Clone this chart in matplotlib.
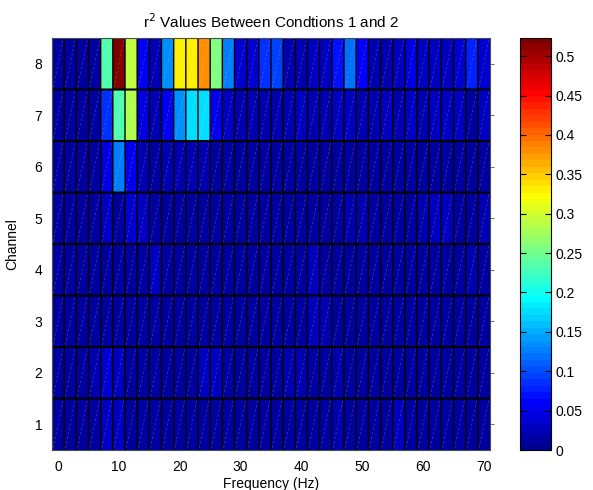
import matplotlib
matplotlib.use('Agg')
import matplotlib.pyplot as plt
import numpy as np
from matplotlib.colors import ListedColormap
from matplotlib.collections import LineCollection

plt.rcParams['font.family'] = ['Liberation Sans', 'DejaVu Sans']
fs = 10

freqs = np.arange(0, 71, 2)          # bin centres (Hz)
channels = [1, 2, 3, 4, 5, 6, 7, 8]

ch1 = [0.012, 0.012, 0.012, 0.015, 0.030, 0.028, 0.015, 0.012, 0.012, 0.012, 0.012, 0.012,
       0.015, 0.012, 0.012, 0.012, 0.012, 0.012, 0.012, 0.015, 0.012, 0.012, 0.012, 0.020,
       0.012, 0.012, 0.012, 0.015, 0.030, 0.012, 0.012, 0.012, 0.012, 0.012, 0.012, 0.012]
ch2 = [0.012, 0.012, 0.012, 0.020, 0.040, 0.030, 0.015, 0.012, 0.015, 0.015, 0.015, 0.012,
       0.025, 0.025, 0.012, 0.012, 0.012, 0.012, 0.012, 0.020, 0.020, 0.015, 0.012, 0.020,
       0.015, 0.012, 0.012, 0.012, 0.012, 0.012, 0.012, 0.012, 0.012, 0.012, 0.012, 0.012]
ch3 = [0.012, 0.012, 0.012, 0.012, 0.015, 0.012, 0.012, 0.012, 0.012, 0.012, 0.012, 0.012,
       0.012, 0.015, 0.012, 0.012, 0.012, 0.012, 0.012, 0.012, 0.012, 0.025, 0.020, 0.015,
       0.012, 0.012, 0.012, 0.012, 0.012, 0.012, 0.012, 0.012, 0.012, 0.012, 0.012, 0.012]
ch4 = [0.012, 0.012, 0.012, 0.012, 0.012, 0.012, 0.012, 0.012, 0.025, 0.015, 0.012, 0.012,
       0.012, 0.012, 0.012, 0.012, 0.012, 0.012, 0.012, 0.012, 0.012, 0.025, 0.015, 0.012,
       0.012, 0.012, 0.012, 0.012, 0.012, 0.012, 0.015, 0.012, 0.012, 0.015, 0.020, 0.012]
ch5 = [0.010, 0.010, 0.010, 0.015, 0.030, 0.015, 0.040, 0.028, 0.012, 0.010, 0.012, 0.012,
       0.010, 0.012, 0.010, 0.012, 0.012, 0.015, 0.012, 0.012, 0.012, 0.010, 0.012, 0.015,
       0.020, 0.020, 0.012, 0.012, 0.015, 0.015, 0.020, 0.025, 0.025, 0.012, 0.015, 0.020]
ch6 = [0.012, 0.012, 0.012, 0.012, 0.045, 0.127, 0.055, 0.020, 0.015, 0.020, 0.020, 0.020,
       0.020, 0.015, 0.015, 0.012, 0.015, 0.012, 0.015, 0.012, 0.012, 0.015, 0.012, 0.012,
       0.015, 0.012, 0.012, 0.012, 0.015, 0.012, 0.012, 0.015, 0.012, 0.012, 0.015, 0.012]
ch7 = [0.015, 0.012, 0.012, 0.015, 0.082, 0.235, 0.284, 0.043, 0.020, 0.050, 0.138, 0.178,
       0.172, 0.052, 0.030, 0.020, 0.020, 0.020, 0.020, 0.020, 0.025, 0.020, 0.020, 0.025,
       0.025, 0.020, 0.020, 0.025, 0.020, 0.025, 0.020, 0.025, 0.025, 0.030, 0.015, 0.025]
ch8 = [0.012, 0.015, 0.012, 0.015, 0.235, 0.523, 0.292, 0.050, 0.020, 0.135, 0.331, 0.331,
       0.378, 0.258, 0.125, 0.040, 0.035, 0.085, 0.090, 0.020, 0.020, 0.025, 0.030, 0.070,
       0.115, 0.060, 0.020, 0.020, 0.025, 0.045, 0.030, 0.025, 0.030, 0.035, 0.080, 0.035]

r2 = np.array([ch1, ch2, ch3, ch4, ch5, ch6, ch7, ch8])

# matlab style jet(64)
i = np.arange(64)
r = np.clip(np.minimum((i - 23) / 16, (71 - i) / 16), 0, 1)
g = np.clip(np.minimum((i - 7) / 16, (55 - i) / 16), 0, 1)
b = np.clip(np.minimum((i + 9) / 16, (39 - i) / 16), 0, 1)
mjet = ListedColormap(np.column_stack([r, g, b]))

fig = plt.figure(figsize=(5.93, 4.9), dpi=100)
ax = fig.add_axes([0.0877, 0.0816, 0.7386, 0.8408])
cax = fig.add_axes([0.8769, 0.0816, 0.0523, 0.8408])

xe = np.append(freqs - 1, freqs[-1] + 1)
ye = np.append(np.array(channels) - 0.5, channels[-1] + 0.5)
vmax = r2.max()
mesh = ax.pcolormesh(xe, ye, r2, cmap=mjet, vmin=0, vmax=vmax, edgecolors='none')

# faint triangle seams from the renderer
segs = []
for x0, x1 in zip(xe[:-1], xe[1:]):
    for y0, y1 in zip(ye[:-1], ye[1:]):
        segs.append([(x0 + 0.2, y0 + 0.04), (x1 - 0.2, y1 - 0.04)])
ax.add_collection(LineCollection(segs, colors='white', alpha=0.2,
                                 linewidths=0.6, linestyles=(0, (3, 2.5))))

# cell borders: thin between columns, heavier between rows
for x in xe[1:-1]:
    ax.axvline(x, color='k', lw=1.0, snap=False)
for y in ye[1:-1]:
    ax.axhline(y, color='k', lw=1.5, snap=False)

ax.set_xlim(xe[0], xe[-1])
ax.set_ylim(ye[0], ye[-1])
ax.set_xticks(np.arange(0, 71, 10))
ax.set_yticks(channels)
# ticks are hidden under the surface except a stub on the right
ax.tick_params(axis='both', length=0, labelsize=fs, pad=7)
ax.tick_params(axis='y', right=True, which='major')
ax.yaxis.set_tick_params(which='major', direction='out')
for t in ax.yaxis.get_major_ticks():
    t.tick2line.set_markersize(3)
    t.tick2line.set_markeredgecolor('0.45')
ax.set_xlabel('Frequency (Hz)', fontsize=fs, labelpad=2)
ax.set_ylabel('Channel', fontsize=fs, labelpad=11)
ax.set_title(r'r$^2$ Values Between Condtions 1 and 2', fontsize=11, pad=7)
for s in ax.spines.values():
    s.set_linewidth(0.8)
    s.set_color('0.3')

cb = fig.colorbar(mesh, cax=cax)
cb.set_ticks(np.arange(0, 0.51, 0.05))
cb.set_ticklabels(['0', '0.05', '0.1', '0.15', '0.2', '0.25', '0.3', '0.35', '0.4', '0.45', '0.5'])
cax.tick_params(direction='in', length=4, labelsize=fs, left=True, right=True)
cb.outline.set_linewidth(0.8)

fig.savefig('out.png', dpi=100)
